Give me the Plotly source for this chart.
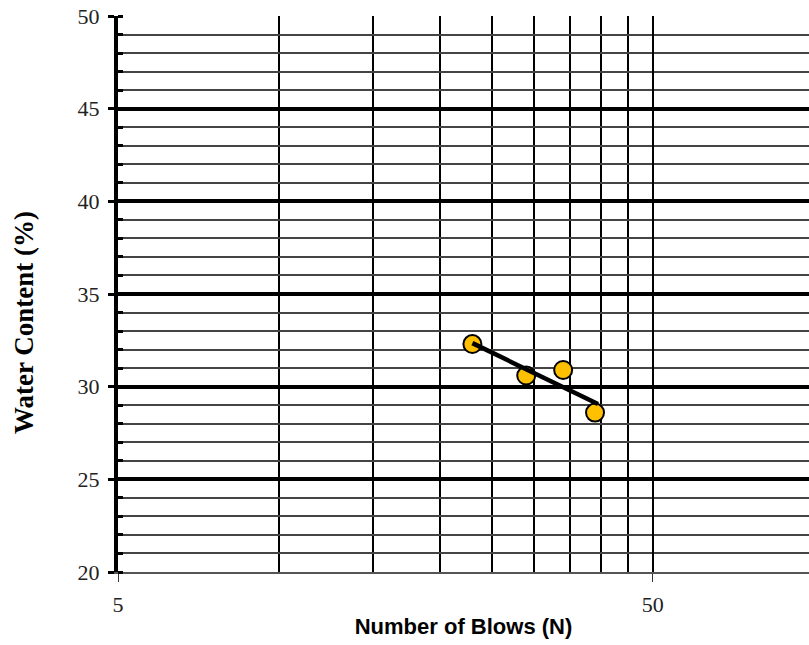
import numpy as np
import plotly.graph_objects as go

# Data
blows = [23, 29, 34, 39]
water_content = [32.3, 30.6, 30.9, 28.6]

x_tick_vals = [5, 50]
x_tick_text = ["5", "50"]
x_minor_vals = [10, 15, 20, 25, 30, 35, 40, 45]
y_major_vals = [20, 25, 30, 35, 40, 45, 50]
y_thick_vals = [25, 30, 35, 40, 45]

# semi-log least-squares trend line
lx = np.log10(blows)
slope, intercept = np.polyfit(lx, water_content, 1)
trend_x = [min(blows), max(blows) + 0.5]
trend_y = [slope * np.log10(v) + intercept for v in trend_x]

fig = go.Figure()
fig.add_trace(go.Scatter(
    x=trend_x, y=trend_y, mode="lines", yaxis="y2",
    line=dict(color="black", width=4.5), showlegend=False, hoverinfo="skip"))
fig.add_trace(go.Scatter(
    x=blows, y=water_content, mode="markers",
    marker=dict(color="#FFC000", size=18, line=dict(color="black", width=2)),
    showlegend=False))

serif = "Liberation Serif, Times New Roman, serif"

fig.update_layout(
    width=809, height=645,
    margin=dict(l=118, r=0, t=16, b=73),
    paper_bgcolor="white", plot_bgcolor="white",
    xaxis=dict(
        type="log", range=[np.log10(5), np.log10(98)],
        tickmode="array", tickvals=x_tick_vals, ticktext=x_tick_text,
        ticks="outside", ticklen=8, tickwidth=1, tickcolor="#333",
        tickfont=dict(family=serif, size=22, color="#222"),
        ticklabelstandoff=4,
        showgrid=True, gridcolor="black", gridwidth=2,
        minor=dict(tickmode="array", tickvals=x_minor_vals, showgrid=True,
                   gridcolor="black", gridwidth=2, ticks=""),
        showline=True, linecolor="#555", linewidth=2,
        zeroline=False,
        title=dict(text="<b>Number of Blows (N)</b>",
                   font=dict(family="Liberation Sans Narrow, Arial Narrow, Liberation Sans, Arial",
                             size=22, color="black"),
                   standoff=2),
    ),
    yaxis=dict(
        range=[20, 50], tickmode="array", tickvals=y_major_vals,
        ticks="outside", ticklen=6, tickwidth=3, tickcolor="black",
        tickfont=dict(family=serif, size=22, color="#222"),
        ticklabelstandoff=4, ticklabeloverflow="allow",
        showgrid=False,
        minor=dict(dtick=1, tick0=20, showgrid=True, gridcolor="#444", gridwidth=1.5,
                   ticks="inside", ticklen=5, tickwidth=3, tickcolor="black"),
        showline=True, linecolor="black", linewidth=4,
        zeroline=False,
    ),
    yaxis2=dict(
        overlaying="y", range=[20, 50], tickmode="array", tickvals=y_thick_vals,
        showticklabels=False, ticks="", showgrid=True, gridcolor="black",
        gridwidth=3.5, zeroline=False, showline=False,
    ),
    annotations=[dict(
        text="<b>Water Content (%)</b>", textangle=-90,
        xref="paper", yref="paper", x=-0.136, y=0.448,
        xanchor="center", yanchor="middle", showarrow=False,
        font=dict(family=serif, size=27, color="black"),
    )],
)

fig.write_html(
    "out.html",
    config={"displayModeBar": False},
    post_script="document.body.style.margin='0';document.body.style.overflow='hidden';",
)
